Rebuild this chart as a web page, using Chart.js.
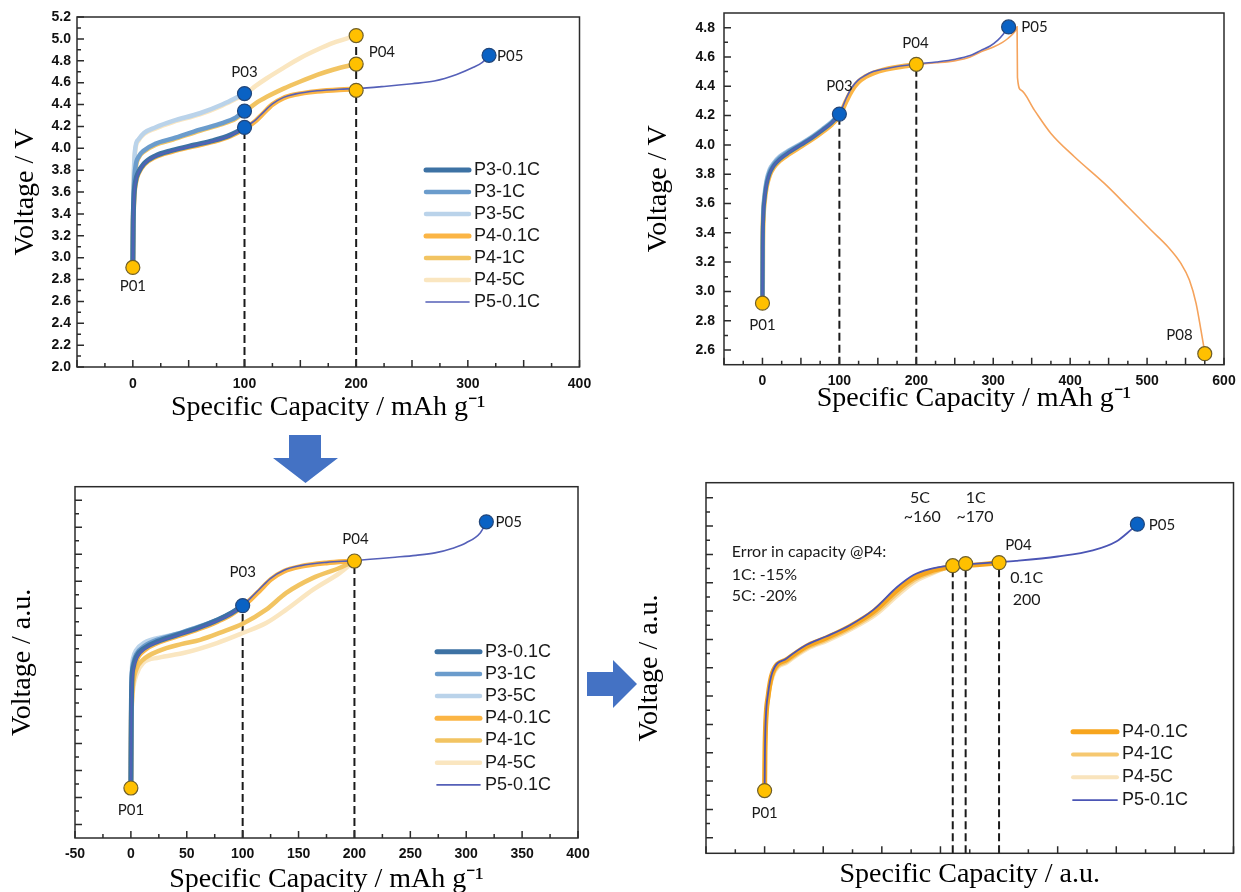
<!DOCTYPE html>
<html>
<head>
<meta charset="utf-8">
<script src="https://cdn.jsdelivr.net/npm/chart.js@4.4.1/dist/chart.umd.min.js"></script>
<style>
  html, body { margin: 0; padding: 0; background: #fff; overflow: hidden; width: 1241px; height: 892px; }
  canvas { position: absolute; }
  .arrow { position: absolute; background: #4472c4; }
</style>
</head>
<body>
<canvas id="panel1" width="610" height="430" style="left:0;top:0"></canvas>
<canvas id="panel2" width="621" height="430" style="left:620px;top:0"></canvas>
<canvas id="panel3" width="610" height="470" style="left:0;top:430px"></canvas>
<canvas id="panel4" width="621" height="470" style="left:620px;top:430px"></canvas>
<div class="arrow" style="left:273px;top:435px;width:65px;height:48px;clip-path:polygon(16px 0,48px 0,48px 23px,65px 23px,32.5px 48px,0 23px,16px 23px)"></div>
<div class="arrow" style="left:587px;top:660px;width:50px;height:48px;clip-path:polygon(0 12px,26px 12px,26px 0,50px 24px,26px 48px,26px 36px,0 36px)"></div>
<script>
// ---------- panel 1 (top left): voltage vs capacity, three rates ----------
var p1XLabels = [0, 100, 200, 300, 400];
var p1YLabels = [2.0, 2.2, 2.4, 2.6, 2.8, 3.0, 3.2, 3.4, 3.6, 3.8, 4.0, 4.2, 4.4, 4.6, 4.8, 5.0, 5.2];

var p1CapP3_01C = [0, 0.3, 1, 2.5, 5, 10, 20, 35, 55, 72, 87, 100];
var p1VoltP3_01C = [2.91, 3.30, 3.55, 3.70, 3.78, 3.86, 3.93, 3.98, 4.03, 4.07, 4.12, 4.19];
var p1CapP3_1C = [0, 0.3, 1, 2.5, 5, 10, 20, 36, 60, 80, 92, 100];
var p1VoltP3_1C = [2.91, 3.35, 3.65, 3.84, 3.92, 3.98, 4.04, 4.09, 4.17, 4.23, 4.28, 4.34];
var p1CapP3_5C = [0, 0.3, 1, 2.5, 5, 10, 20, 36, 60, 80, 92, 100];
var p1VoltP3_5C = [2.91, 3.40, 3.80, 4.02, 4.08, 4.14, 4.19, 4.25, 4.32, 4.40, 4.46, 4.50];
var p1CapP4_01C = [0, 0.3, 1, 2.5, 5, 10, 20, 35, 55, 72, 87, 100, 110, 115, 125, 135, 145, 165, 185, 200];
var p1VoltP4_01C = [2.91, 3.28, 3.53, 3.68, 3.77, 3.85, 3.92, 3.97, 4.02, 4.06, 4.11, 4.18, 4.25, 4.30, 4.40, 4.46, 4.49, 4.52, 4.535, 4.54];
var p1CapP4_1C = [0, 0.3, 1, 2.5, 5, 10, 20, 36, 60, 80, 92, 100, 110, 120, 135, 150, 165, 180, 200];
var p1VoltP4_1C = [2.91, 3.33, 3.63, 3.82, 3.91, 3.97, 4.03, 4.08, 4.16, 4.22, 4.27, 4.33, 4.41, 4.47, 4.545, 4.61, 4.67, 4.72, 4.77];
var p1CapP4_5C = [0, 0.3, 1, 2.5, 5, 10, 20, 36, 60, 80, 92, 100, 110, 120, 135, 150, 165, 180, 200];
var p1VoltP4_5C = [2.91, 3.38, 3.78, 4.00, 4.07, 4.13, 4.18, 4.24, 4.31, 4.39, 4.45, 4.49, 4.57, 4.64, 4.735, 4.825, 4.90, 4.965, 5.03];
var p1CapP5 = [0, 0.3, 1, 2.5, 5, 10, 20, 35, 55, 72, 87, 100, 110, 115, 125, 135, 145, 165, 185, 200, 225, 250, 270, 290, 305, 313, 319];
var p1VoltP5 = [2.91, 3.29, 3.54, 3.69, 3.775, 3.855, 3.925, 3.975, 4.025, 4.065, 4.115, 4.19, 4.26, 4.31, 4.405, 4.465, 4.495, 4.525, 4.54, 4.545, 4.565, 4.59, 4.615, 4.675, 4.74, 4.785, 4.845];
var p1YellowCap = [0, 200, 200, 200];
var p1YellowVolt = [2.91, 4.53, 4.77, 5.03];
var p1BlueCap = [100, 100, 100, 319];
var p1BlueVolt = [4.19, 4.34, 4.50, 4.85];
var p1DashCap = [100, 200];
var p1DashTop = [4.19, 5.03];
var p1Notes = [['P01', 0, 2.74], ['P03', 100, 4.70], ['P04', 223, 4.875], ['P05', 338, 4.84]];

// ---------- panel 2 (top right): full cycle with discharge to P08 ----------
var p2XLabels = [0, 100, 200, 300, 400, 500, 600];
var p2YLabels = [2.6, 2.8, 3.0, 3.2, 3.4, 3.6, 3.8, 4.0, 4.2, 4.4, 4.6, 4.8];

var p2CapP3 = [0, 0.3, 1, 2.5, 5, 9, 15, 22, 35, 50, 65, 78, 90, 100];
var p2VoltP3_01C = [2.92, 3.30, 3.50, 3.62, 3.72, 3.80, 3.86, 3.90, 3.95, 4.00, 4.05, 4.10, 4.15, 4.21];
var p2VoltP3_1C = [2.92, 3.31, 3.52, 3.64, 3.74, 3.815, 3.87, 3.91, 3.96, 4.005, 4.055, 4.105, 4.155, 4.21];
var p2VoltP3_5C = [2.92, 3.32, 3.54, 3.66, 3.755, 3.83, 3.88, 3.92, 3.965, 4.01, 4.06, 4.11, 4.16, 4.21];
var p2CapP4 = [0, 0.3, 1, 2.5, 5, 9, 15, 22, 35, 50, 65, 78, 90, 100, 109, 116, 124, 134, 144, 160, 175, 190, 200];
var p2VoltP4 = [2.92, 3.29, 3.49, 3.61, 3.71, 3.79, 3.85, 3.89, 3.94, 3.99, 4.04, 4.09, 4.14, 4.20, 4.30, 4.37, 4.425, 4.465, 4.49, 4.515, 4.53, 4.542, 4.55];
var p2CapP5 = [0, 0.3, 1, 2.5, 5, 9, 15, 22, 35, 50, 65, 78, 90, 100, 109, 116, 124, 134, 144, 160, 175, 190, 200, 226, 251, 270, 284, 296, 306, 313, 317, 320];
var p2VoltP5 = [2.92, 3.30, 3.50, 3.62, 3.72, 3.80, 3.86, 3.90, 3.95, 4.00, 4.05, 4.10, 4.15, 4.21, 4.32, 4.39, 4.44, 4.475, 4.50, 4.52, 4.535, 4.545, 4.552, 4.566, 4.585, 4.61, 4.645, 4.675, 4.715, 4.755, 4.785, 4.805];
var p2CapP8 = [200, 226, 251, 270, 284, 301, 312, 319, 326, 330, 331, 331.5, 336, 353.5, 375, 405.5, 444.5, 475, 505, 527, 544, 555, 563.7, 570, 573.7, 575];
var p2VoltP8 = [4.55, 4.56, 4.575, 4.60, 4.635, 4.67, 4.70, 4.726, 4.76, 4.79, 4.805, 4.46, 4.374, 4.237, 4.078, 3.919, 3.737, 3.578, 3.419, 3.305, 3.191, 3.078, 2.919, 2.737, 2.623, 2.58];
var p2YellowCap = [0, 200, 575];
var p2YellowVolt = [2.92, 4.55, 2.575];
var p2BlueCap = [100, 320];
var p2BlueVolt = [4.21, 4.805];
var p2DashCap = [100, 200];
var p2DashTop = [4.21, 4.55];
var p2Notes = [['P01', 0, 2.77], ['P03', 100, 4.40], ['P04', 199, 4.695], ['P05', 353.5, 4.805], ['P08', 542, 2.70]];

// ---------- panel 3 (bottom left): curves aligned at P03 / P04 ----------
var p3XLabels = [-50, 0, 50, 100, 150, 200, 250, 300, 350, 400];

var p3CapP3 = [0, 0.3, 0.8, 2, 4.8, 12, 24, 42, 60, 78, 90, 100];
var p3VoltP3_01C = [2.87, 3.35, 3.65, 3.76, 3.84, 3.905, 3.955, 4.005, 4.055, 4.115, 4.165, 4.22];
var p3VoltP3_1C = [2.87, 3.38, 3.68, 3.79, 3.86, 3.92, 3.968, 4.013, 4.06, 4.117, 4.166, 4.22];
var p3CapP3_5C = [0, 0.3, 0.8, 2, 4.8, 12, 30, 45, 60, 78, 90, 100];
var p3VoltP3_5C = [2.87, 3.40, 3.72, 3.83, 3.89, 3.945, 3.99, 4.02, 4.062, 4.118, 4.167, 4.22];
var p3CapP4_01C = [0, 0.3, 0.8, 2, 4.8, 12, 24, 42, 60, 78, 90, 100, 107, 116, 125, 137, 152, 175, 200];
var p3VoltP4_01C = [2.87, 3.30, 3.55, 3.70, 3.81, 3.89, 3.945, 3.995, 4.045, 4.105, 4.155, 4.215, 4.264, 4.338, 4.412, 4.474, 4.51, 4.536, 4.55];
var p3CapP4_1C = [0, 0.3, 0.8, 2, 5, 11, 25, 45, 62, 80, 100, 121, 139, 163, 187, 200];
var p3VoltP4_1C = [2.87, 3.28, 3.50, 3.64, 3.75, 3.82, 3.885, 3.935, 3.967, 4.02, 4.086, 4.19, 4.314, 4.425, 4.50, 4.55];
var p3CapP4_5C = [0, 0.3, 0.8, 2, 5, 11, 25, 47, 77, 100, 121, 139, 163, 187, 200];
var p3VoltP4_5C = [2.87, 3.26, 3.47, 3.60, 3.71, 3.795, 3.835, 3.869, 3.943, 4.017, 4.091, 4.19, 4.338, 4.462, 4.55];
var p3CapP5 = [0, 0.3, 0.8, 2, 4.8, 12, 24, 42, 60, 78, 90, 100, 107, 116, 125, 137, 152, 175, 200, 236.5, 255, 272, 288, 300, 312.7, 318];
var p3VoltP5 = [2.87, 3.32, 3.58, 3.72, 3.82, 3.895, 3.95, 4.0, 4.05, 4.11, 4.16, 4.22, 4.275, 4.35, 4.422, 4.482, 4.516, 4.54, 4.553, 4.578, 4.592, 4.61, 4.645, 4.685, 4.76, 4.837];
var p3YellowCap = [0, 200];
var p3YellowVolt = [2.87, 4.55];
var p3BlueCap = [100, 318];
var p3BlueVolt = [4.22, 4.84];
var p3DashCap = [100, 200];
var p3DashTop = [4.22, 4.55];
var p3Notes = [['P01', 0, 2.707], ['P03', 100, 4.466], ['P04', 201, 4.709], ['P05', 338, 4.84]];

// ---------- panel 4 (bottom right): P4 capacity error at 1C / 5C ----------
var p4CapP4_01C = [0, 0.3, 1, 3, 6.7, 18.7, 35.5, 52.4, 72.8, 93, 113.3, 126.8, 140.3, 157.2, 180.9, 200];
var p4VoltP4_01C = [2.93, 3.20, 3.42, 3.60, 3.763, 3.857, 3.951, 4.01, 4.092, 4.197, 4.35, 4.432, 4.479, 4.51, 4.526, 4.54];
var p4CapP4_1C = [0, 0.3, 1, 3, 7, 19, 36, 53, 73.5, 94, 114.5, 128, 141.5, 156, 171.5];
var p4VoltP4_1C = [2.93, 3.19, 3.41, 3.59, 3.752, 3.845, 3.94, 3.998, 4.08, 4.183, 4.335, 4.42, 4.468, 4.505, 4.533];
var p4CapP4_5C = [0, 0.3, 1, 3, 7.3, 19.5, 36.5, 53.5, 74, 95, 115.5, 129, 142, 152, 160.5];
var p4VoltP4_5C = [2.93, 3.18, 3.40, 3.58, 3.745, 3.838, 3.932, 3.99, 4.072, 4.175, 4.325, 4.41, 4.46, 4.495, 4.52];
var p4CapP5 = [0, 0.3, 1, 3, 6.7, 18.7, 35.5, 52.4, 72.8, 93, 113, 127, 140, 160, 181, 200, 214.5, 250, 280, 300, 312.5, 318];
var p4VoltP5 = [2.93, 3.22, 3.44, 3.62, 3.77, 3.865, 3.96, 4.02, 4.10, 4.21, 4.37, 4.455, 4.495, 4.522, 4.535, 4.545, 4.554, 4.585, 4.628, 4.691, 4.773, 4.813];
var p4YellowCap = [0, 160.5, 171.5, 200];
var p4YellowVolt = [2.933, 4.52, 4.535, 4.542];
var p4BlueCap = [318];
var p4BlueVolt = [4.813];
var p4DashCap = [160.5, 171.5, 200];
var p4DashTop = [4.52, 4.535, 4.542];
var p4Notes = [
    ['P01', 0, 2.776], ['P04', 216.5, 4.667], ['P05', 339, 4.808],
    ['5C', 132.6, 4.996, 'center', 16], ['~160', 134.5, 4.862, 'center', 16],
    ['1C', 180, 5.0, 'center', 16], ['~170', 179.5, 4.866, 'center', 16],
    ['0.1C', 223.6, 4.432, 'center', 16], ['200', 223.6, 4.279, 'center', 16],
    ['Error in capacity @P4:', -28, 4.62, 'left', 16],
    ['1C: -15%', -28, 4.455, 'left', 16],
    ['5C: -20%', -28, 4.307, 'left', 16]
];

var YELLOW = '#ffc000', YELLOW_EDGE = '#6f5f2a';
var BLUE = '#0a62c4', BLUE_EDGE = '#22467a';

function pts(xs, ys) {
    return xs.map(function (x, i) { return { x: x, y: ys[i] }; });
}

function steps(a, b, s) {
    var out = [];
    for (var v = a; v <= b + 1e-9; v += s) out.push(Math.round(v * 1000) / 1000);
    return out;
}

function curve(label, xs, ys, color, width, order, inLegend) {
    return {
        label: label, data: pts(xs, ys), borderColor: color, backgroundColor: color,
        borderWidth: width, pointRadius: 0, cubicInterpolationMode: 'monotone',
        borderCapStyle: 'round', order: order, inLegend: inLegend !== false
    };
}

function markers(xs, ys, fill, edge) {
    return {
        data: pts(xs, ys), showLine: false, pointRadius: 7, pointBackgroundColor: fill,
        pointBorderColor: edge, pointBorderWidth: 1.2, order: 0, inLegend: false
    };
}

function dashes(xs, tops, bottom) {
    return xs.map(function (x, i) {
        return {
            data: [{ x: x, y: bottom }, { x: x, y: tops[i] }], borderColor: '#1a1a1a',
            borderWidth: 2, borderDash: [8, 4], pointRadius: 0, order: 9, inLegend: false
        };
    });
}

// frame and inward tick marks
var frame = {
    id: 'frame',
    afterDatasetsDraw: function (chart, args, o) {
        var ctx = chart.ctx, a = chart.chartArea, sx = chart.scales.x, sy = chart.scales.y;
        ctx.save();
        ctx.strokeStyle = '#2b2b2b';
        ctx.lineWidth = 1.5;
        ctx.strokeRect(a.left, a.top, a.right - a.left, a.bottom - a.top);
        ctx.beginPath();
        function tx(v, len) { var p = sx.getPixelForValue(v); ctx.moveTo(p, a.bottom); ctx.lineTo(p, a.bottom - len); }
        function ty(v, len) { var p = sy.getPixelForValue(v); ctx.moveTo(a.left, p); ctx.lineTo(a.left + len, p); }
        sx.ticks.forEach(function (t) { tx(t.value, 7); });
        (o.xMinor || []).forEach(function (v) { tx(v, 4); });
        sy.ticks.forEach(function (t) { ty(t.value, 7); });
        (o.yMinor || []).forEach(function (v) { ty(v, 4); });
        ctx.stroke();
        ctx.restore();
    }
};

var insideLegend = {
    id: 'insideLegend',
    afterDraw: function (chart, args, o) {
        if (!o.x) return;
        var ctx = chart.ctx, row = 0;
        ctx.save();
        ctx.font = '18px "Liberation Sans"';
        ctx.textBaseline = 'middle';
        ctx.fillStyle = '#1a1a1a';
        chart.data.datasets.forEach(function (ds) {
            if (!ds.inLegend) return;
            var y = o.y + row * o.step;
            ctx.strokeStyle = ds.borderColor;
            ctx.lineWidth = ds.borderWidth;
            ctx.lineCap = 'round';
            ctx.beginPath();
            ctx.moveTo(o.x, y);
            ctx.lineTo(o.x + o.len, y);
            ctx.stroke();
            ctx.fillText(ds.label, o.x + o.len + o.gap, y);
            row++;
        });
        ctx.restore();
    }
};

var notes = {
    id: 'notes',
    afterDraw: function (chart, args, o) {
        var ctx = chart.ctx, sx = chart.scales.x, sy = chart.scales.y;
        ctx.save();
        ctx.fillStyle = '#1a1a1a';
        ctx.textBaseline = 'middle';
        (o.items || []).forEach(function (n) {
            ctx.font = (n[4] || 15) + 'px Lato';
            ctx.textAlign = n[3] || 'center';
            ctx.fillText(n[0], sx.getPixelForValue(n[1]), sy.getPixelForValue(n[2]));
        });
        ctx.restore();
    }
};

var tickFont = { family: 'Liberation Sans', size: 14, weight: 'bold' };
var titleFont = { family: 'Liberation Serif', size: 28 };

function panel(id, o) {
    return new Chart(document.getElementById(id), {
        type: 'line',
        data: { datasets: o.datasets },
        options: {
            responsive: false,
            animation: false,
            events: [],
            layout: { autoPadding: false, padding: { left: 0, top: o.padT, right: o.padR, bottom: 0 } },
            plugins: {
                legend: { display: false },
                tooltip: { enabled: false },
                frame: { xMinor: o.xMinor, yMinor: o.yMinor },
                insideLegend: o.legend || {},
                notes: { items: o.notes }
            },
            scales: {
                x: {
                    type: 'linear', min: o.xMin, max: o.xMax,
                    grid: { display: false, drawTicks: false }, border: { display: false },
                    afterBuildTicks: function (s) { s.ticks = o.xMajor.map(function (v) { return { value: v }; }); },
                    afterFit: function (s) { s.height = o.xH; s.paddingLeft = 0; s.paddingRight = 0; },
                    ticks: {
                        display: o.xLabels.length > 0, autoSkip: false, maxRotation: 0,
                        padding: o.xTickPad, color: '#111', font: tickFont,
                        callback: function (v) { return o.xLabels.indexOf(v) >= 0 ? String(v) : ''; }
                    },
                    title: { display: true, text: o.xTitle, color: '#000', font: titleFont, padding: { top: 0, bottom: o.xTitlePad } }
                },
                y: {
                    type: 'linear', min: o.yMin, max: o.yMax,
                    grid: { display: false, drawTicks: false }, border: { display: false },
                    afterBuildTicks: function (s) { s.ticks = o.yMajor.map(function (v) { return { value: v }; }); },
                    afterFit: function (s) { s.width = o.yW; s.paddingTop = 0; s.paddingBottom = 0; },
                    ticks: {
                        display: o.yLabels.length > 0, autoSkip: false,
                        padding: o.yTickPad, color: '#111', font: tickFont,
                        callback: function (v) { return o.yLabels.indexOf(v) >= 0 ? v.toFixed(1) : ''; }
                    },
                    title: { display: true, text: o.yTitle, color: '#000', font: titleFont, padding: { top: o.yTitlePad, bottom: 0 } }
                }
            }
        },
        plugins: [frame, insideLegend, notes]
    });
}

document.addEventListener("DOMContentLoaded", function () {
    // top left
    panel('panel1', {
        datasets: [
            curve('P3-0.1C', p1CapP3_01C, p1VoltP3_01C, '#3d72a4', 5, 2),
            curve('P3-1C', p1CapP3_1C, p1VoltP3_1C, '#6b9ccc', 4.5, 3),
            curve('P3-5C', p1CapP3_5C, p1VoltP3_5C, '#bad3ea', 4.5, 4),
            curve('P4-0.1C', p1CapP4_01C, p1VoltP4_01C, '#fbb545', 5, 5),
            curve('P4-1C', p1CapP4_1C, p1VoltP4_1C, '#f2c462', 4.5, 6),
            curve('P4-5C', p1CapP4_5C, p1VoltP4_5C, '#fae6c0', 4.5, 7),
            curve('P5-0.1C', p1CapP5, p1VoltP5, '#5560b8', 1.6, 1),
            markers(p1YellowCap, p1YellowVolt, YELLOW, YELLOW_EDGE),
            markers(p1BlueCap, p1BlueVolt, BLUE, BLUE_EDGE)
        ].concat(dashes(p1DashCap, p1DashTop, 2.0)),
        xMin: -50, xMax: 400, yMin: 2.0, yMax: 5.2,
        xMajor: steps(-50, 400, 50), xMinor: steps(-25, 375, 50), xLabels: p1XLabels,
        yMajor: p1YLabels, yMinor: steps(2.1, 5.1, 0.2), yLabels: p1YLabels,
        padT: 17, padR: 30.5, xH: 63, yW: 77, xTickPad: 9, yTickPad: 6,
        xTitle: 'Specific Capacity / mAh g\u207B\u00B9', xTitlePad: 6,
        yTitle: 'Voltage / V', yTitlePad: 9,
        legend: { x: 426, y: 170, step: 22, len: 43, gap: 5 },
        notes: p1Notes
    });

    // top right
    panel('panel2', {
        datasets: [
            curve('P3-0.1C', p2CapP3, p2VoltP3_01C, '#3d72a4', 4, 2, false),
            curve('P3-1C', p2CapP3, p2VoltP3_1C, '#6b9ccc', 4, 3, false),
            curve('P3-5C', p2CapP3, p2VoltP3_5C, '#9fc0e0', 4, 4, false),
            curve('P4-0.1C', p2CapP4, p2VoltP4, '#fbb545', 5, 5, false),
            curve('P5-0.1C', p2CapP5, p2VoltP5, '#5560b8', 1.6, 1, false),
            curve('P08', p2CapP8, p2VoltP8, '#f5a35c', 1.6, 6, false),
            markers(p2YellowCap, p2YellowVolt, YELLOW, YELLOW_EDGE),
            markers(p2BlueCap, p2BlueVolt, BLUE, BLUE_EDGE)
        ].concat(dashes(p2DashCap, p2DashTop, 2.5)),
        xMin: -50, xMax: 600, yMin: 2.5, yMax: 4.9,
        xMajor: steps(-50, 600, 50), xMinor: steps(-25, 575, 50), xLabels: p2XLabels,
        yMajor: p2YLabels, yMinor: steps(2.7, 4.7, 0.2), yLabels: p2YLabels,
        padT: 13, padR: 17, xH: 65.3, yW: 104, xTickPad: 8, yTickPad: 9,
        xTitle: 'Specific Capacity / mAh g\u207B\u00B9', xTitlePad: 15,
        yTitle: 'Voltage / V', yTitlePad: 22,
        notes: p2Notes
    });

    // bottom left
    panel('panel3', {
        datasets: [
            curve('P3-0.1C', p3CapP3, p3VoltP3_01C, '#3d72a4', 5, 2),
            curve('P3-1C', p3CapP3, p3VoltP3_1C, '#6b9ccc', 4.5, 3),
            curve('P3-5C', p3CapP3_5C, p3VoltP3_5C, '#bad3ea', 4.5, 4),
            curve('P4-0.1C', p3CapP4_01C, p3VoltP4_01C, '#fbb545', 5, 5),
            curve('P4-1C', p3CapP4_1C, p3VoltP4_1C, '#f2c462', 4.5, 6),
            curve('P4-5C', p3CapP4_5C, p3VoltP4_5C, '#fae6c0', 4.5, 7),
            curve('P5-0.1C', p3CapP5, p3VoltP5, '#5560b8', 1.6, 1),
            markers(p3YellowCap, p3YellowVolt, YELLOW, YELLOW_EDGE),
            markers(p3BlueCap, p3BlueVolt, BLUE, BLUE_EDGE)
        ].concat(dashes(p3DashCap, p3DashTop, 2.5)),
        xMin: -50, xMax: 400, yMin: 2.5, yMax: 5.1,
        xMajor: p3XLabels, xMinor: steps(-25, 375, 50), xLabels: p3XLabels,
        yMajor: steps(2.6, 5.0, 0.2), yMinor: steps(2.7, 4.9, 0.2), yLabels: [],
        padT: 56.7, padR: 32, xH: 62, yW: 75, xTickPad: 8, yTickPad: 6,
        xTitle: 'Specific Capacity / mAh g\u207B\u00B9', xTitlePad: 4,
        yTitle: 'Voltage / a.u.', yTitlePad: 6,
        legend: { x: 437, y: 651.7 - 430, step: 22.2, len: 43, gap: 5 },
        notes: p3Notes
    });

    // bottom right
    panel('panel4', {
        datasets: [
            curve('P4-0.1C', p4CapP4_01C, p4VoltP4_01C, '#f7a51e', 5, 2),
            curve('P4-1C', p4CapP4_1C, p4VoltP4_1C, '#f6c870', 4, 3),
            curve('P4-5C', p4CapP4_5C, p4VoltP4_5C, '#f9e4bd', 4, 4),
            curve('P5-0.1C', p4CapP5, p4VoltP5, '#4b55b5', 1.8, 1),
            markers(p4YellowCap, p4YellowVolt, YELLOW, YELLOW_EDGE),
            markers(p4BlueCap, p4BlueVolt, BLUE, BLUE_EDGE)
        ].concat(dashes(p4DashCap, p4DashTop, 2.49)),
        xMin: -50, xMax: 400, yMin: 2.49, yMax: 5.106,
        xMajor: steps(-50, 400, 50), xMinor: steps(-25, 375, 50), xLabels: [],
        yMajor: steps(2.6, 5.0, 0.2), yMinor: steps(2.7, 4.9, 0.2), yLabels: [],
        padT: 52.7, padR: 7.5, xH: 46.7, yW: 86, xTickPad: 8, yTickPad: 6,
        xTitle: 'Specific Capacity / a.u.', xTitlePad: 9,
        yTitle: 'Voltage / a.u.', yTitlePad: 13,
        legend: { x: 453, y: 301.7, step: 22.8, len: 44, gap: 5 },
        notes: p4Notes
    });
});
</script>
</body>
</html>
